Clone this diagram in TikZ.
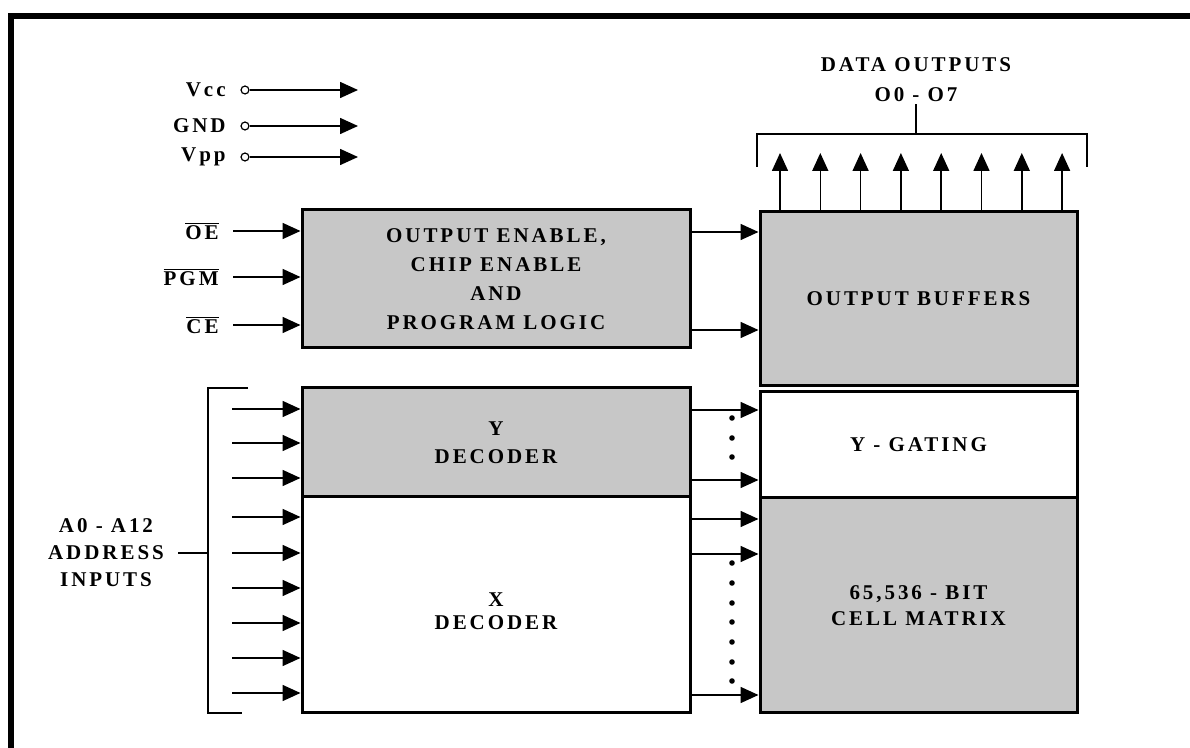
\documentclass[tikz,border=0pt]{standalone}
\usepackage{fontspec}
\setmainfont{Liberation Serif}
\newfontfamily\spaced{Liberation Serif}[LetterSpace=14]
\usetikzlibrary{arrows.meta,calc,positioning}
\newcommand\barsig[1]{$\overline{\mbox{#1}}$}
\tikzset{pin/.style={-{Triangle[length=9pt,width=8pt]}, line width=0.8pt},
  blk/.style={draw, line width=1.5pt, align=center, inner sep=0pt},
  shd/.style={blk, fill=black!22},
  lbl/.style={font=\spaced\bfseries\fontsize{10.5}{13}\selectfont, align=center, inner sep=1pt}}
\begin{document}
\begin{tikzpicture}[x=0.5pt, y=-0.5pt, font=\spaced\bfseries\fontsize{10.5}{13}\selectfont]
  \useasboundingbox (0,0) rectangle (1190,748);
  % frame
  \draw[line width=3pt] (11,748) -- (11,16) -- (1190,16);
  % supply pins
  \foreach \n/\t/\y in {vcc/Vcc/90, gnd/GND/126, vpp/Vpp/157}{
    \node[lbl, anchor=east] (\n) at (228,\y) {\t};
    \node[circle, draw, fill=white, inner sep=1.4pt, line width=0.6pt] (\n c) at (245,\y) {};
    \coordinate (\n e) at (358,\y);
    \draw[pin] (\n c.east) -- (\n e);
  }
  % control logic
  \node[shd, minimum width=194pt, minimum height=69pt, font=\spaced\bfseries\fontsize{10.5}{14.5}\selectfont] (ctl) at (496,279) {OUTPUT ENABLE,\\CHIP ENABLE\\AND\\PROGRAM LOGIC};
  \foreach \n/\t/\y in {oe/OE/231, pgm/PGM/277, ce/CE/325}{
    \node[lbl, anchor=east] (\n) at (221,\y) {\barsig{\t}};
    \draw[pin] (233,\y) -- (ctl.west |- 0,\y);
  }
  % decoders
  \node[shd, minimum width=194pt, minimum height=54.5pt, font=\spaced\bfseries\fontsize{10.5}{14}\selectfont] (ydec) at (496,442.5) {Y\\DECODER};
  \node[blk, minimum width=194pt, minimum height=108pt] (xdec) at (496,605) {};
  \node[lbl, font=\spaced\bfseries\fontsize{10.5}{11.5}\selectfont] (xdtxt) at (496,611) {X\\DECODER};
  % right column
  \node[shd, minimum width=158.5pt, minimum height=87pt] (obuf) at (918.5,299) {OUTPUT BUFFERS};
  \node[blk, minimum width=158.5pt, minimum height=53pt] (ygate) at (918.5,445) {Y - GATING};
  \node[shd, minimum width=158.5pt, minimum height=107.5pt] (cell) at (918.5,605.5) {65,536 - BIT\\CELL MATRIX};
  \foreach \y in {232,330}{\draw[pin] (ctl.east |- 0,\y) -- (obuf.west |- 0,\y);}
  \foreach \y in {410,480}{\draw[pin] (ydec.east |- 0,\y) -- (ygate.west |- 0,\y);}
  \foreach \y in {519,554,695}{\draw[pin] (xdec.east |- 0,\y) -- (cell.west |- 0,\y);}
  \foreach \y in {418,438,457,563,583,603,622,642,662,681}{\fill (732,\y) circle (1.4pt);}
  % data outputs
  \node[lbl, font=\spaced\bfseries\fontsize{10.5}{15}\selectfont, anchor=south] (dout) at (916,104) {DATA OUTPUTS\\O0 - O7};
  \draw[line width=1.2pt] (757,167) -- (757,134) -- (1087,134) -- (1087,167);
  \draw[line width=1.2pt] (dout.south |- 0,134) -- (dout.south);
  \foreach \i in {0,...,7}{
    \coordinate (q\i) at (780+40.3*\i,153);
    \draw[pin] (obuf.north -| q\i) -- (q\i);
  }
  % address inputs
  \node[lbl, font=\spaced\bfseries\fontsize{10.5}{13.5}\selectfont] (adr) at (106,553) {A0 - A12\\ADDRESS\\INPUTS};
  \coordinate (adrs) at (178,553);
  \draw[line width=1.2pt] (248,388) -- (208,388) -- (208,713) -- (242,713);
  \draw[line width=1.2pt] (adrs) -- (adrs -| 208,0);
  \foreach \y in {409,443,478}{\draw[pin] (232,\y) -- (ydec.west |- 0,\y);}
  \foreach \y in {517,553,588,623,658,693}{\draw[pin] (232,\y) -- (xdec.west |- 0,\y);}
\end{tikzpicture}
\end{document}
